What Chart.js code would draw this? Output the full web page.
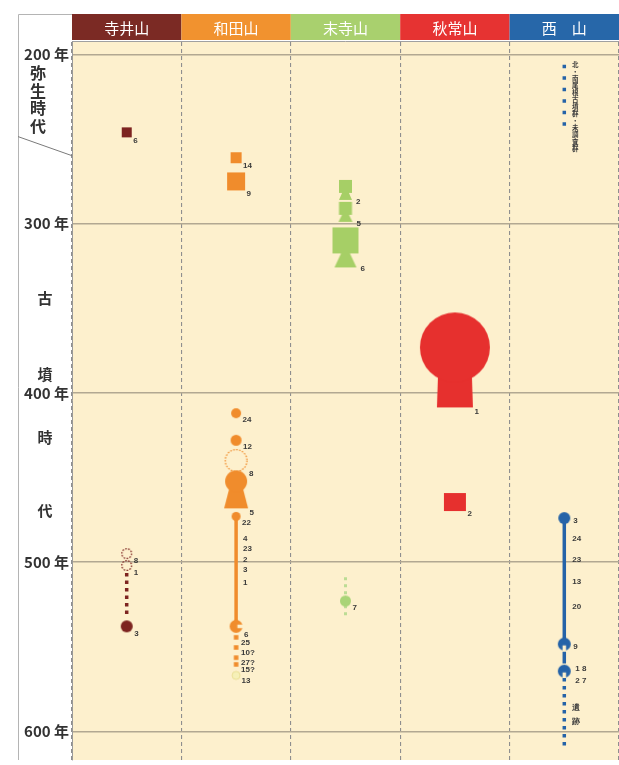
<!DOCTYPE html>
<html>
<head>
<meta charset="utf-8">
<script src="https://cdn.jsdelivr.net/npm/chart.js@4.4.1/dist/chart.umd.min.js"></script>
<style>
  html, body { margin: 0; padding: 0; background: #fff; }
  canvas { display: block; }
</style>
</head>
<body>
<canvas id="chart" width="619" height="765"></canvas>
<script>
// columns and axis
const mountains = ['寺井山', '和田山', '末寺山', '秋常山', '西山'];
const yearTicks = [200, 300, 400, 500, 600];

// tombs: year (centre of the symbol) and tomb number
const teraiYears = [246, 495, 502, 538];
const teraiNos = ['6', '8', '1', '3'];
const wadaYears = [261, 275, 412, 428, 440, 457, 473, 538, 544.5, 550.5, 556.5, 560.5, 567];
const wadaNos = ['14', '9', '24', '12', '8', '5', '22', '6', '25', '10?', '27?', '15?', '13'];
const suedeYears = [280, 293, 314, 523];
const suedeNos = ['2', '5', '6', '7'];
const akitsuneYears = [380.5, 464.5];
const akitsuneNos = ['1', '2'];
const nishiYears = [474, 548.5, 564.5];
const nishiNos = ['3', '9', ''];

// numbers written along the lines
const wadaLineYears = [486, 492.3, 498.8, 504.7, 512.4];
const wadaLineNos = ['4', '23', '2', '3', '1'];
const nishiLineYears = [486, 498.8, 511.8, 526.6, 586.4, 594.7];
const nishiLineNos = ['24', '23', '13', '20', '遺', '跡'];
const nishiPairYears = [563.3, 570.4];
const nishiPairNos = ['1 8', '2 7'];
const nishiNote = '北・南尾根古墳群・未調査群';

// spans of years drawn as lines
const teraiSpans = [[506.5, 533]];
const wadaSpans = [[473.4, 535.5]];
const suedeSpans = [[509, 531.5]];
const nishiSpans = [[206, 246], [474, 546], [553, 560], [568.6, 610]];

// styles
const headerColors = ['#7b2a24', '#f1922f', '#a9d06e', '#e63332', '#2767a9'];
const markColors = ['#7d2420', '#f08c2c', '#a6cf66', '#e6302e', '#2563a8'];
const teraiMarks = [{k: 'sq', w: 10}, {k: 'ring', d: 11}, {k: 'ring', d: 11}, {k: 'dot', d: 12}];
const wadaMarks = [{k: 'sq', w: 11}, {k: 'sq', w: 18}, {k: 'dot', d: 10}, {k: 'dot', d: 11},
  {k: 'ring', d: 23}, {k: 'kh', d: 22, h: 38, tw: 10, bw: 24}, {k: 'dot', d: 9},
  {k: 'cut', d: 13, side: 'r'}, {k: 'sq', w: 4.5}, {k: 'sq', w: 4.5}, {k: 'sq', w: 4.5},
  {k: 'sq', w: 4.5}, {k: 'dot', d: 8, fill: '#f6f0b8', edge: '#e6da8a'}];
const suedeMarks = [{k: 'ks', s: 13, h: 20, tw: 6, bw: 13}, {k: 'ks', s: 13, h: 20, tw: 6, bw: 14},
  {k: 'ks', s: 26, h: 40, tw: 8, bw: 22}, {k: 'dot', d: 11, fill: '#a9d477'}];
const akitsuneMarks = [{k: 'kh', d: 70, h: 95, tw: 32, bw: 36}, {k: 'sq', w: 22, h: 18}];
const nishiMarks = [{k: 'dot', d: 12, lx: 9, ly: 3}, {k: 'cut', d: 13, side: 'b', lx: 9, ly: 3},
  {k: 'cut', d: 13, side: 'b', lx: 0, ly: 0}];

function buildMark(spec, color) {
  const bw = spec.bw || 0;
  const w = Math.max(spec.w || 0, spec.d || 0, spec.s || 0, bw);
  const h = spec.h || spec.d || spec.w;
  const cv = document.createElement('canvas');
  cv.width = Math.ceil(w + 4);
  cv.height = Math.ceil(h + 4);
  const g = cv.getContext('2d');
  g.translate(cv.width / 2, cv.height / 2);
  g.fillStyle = spec.fill || color;
  g.strokeStyle = color;
  const top = -h / 2;
  if (spec.k === 'sq') {
    g.fillRect(-spec.w / 2, top, spec.w, h);
  } else if (spec.k === 'dot' || spec.k === 'cut') {
    g.beginPath();
    g.arc(0, 0, spec.d / 2, 0, Math.PI * 2);
    g.fill();
    if (spec.edge) { g.strokeStyle = spec.edge; g.lineWidth = 0.8; g.stroke(); }
    if (spec.k === 'cut') {
      g.globalCompositeOperation = 'destination-out';
      const n = spec.d * 0.27;
      if (spec.side === 'r') g.fillRect(spec.d * 0.1, -n / 2, spec.d, n);
      else g.fillRect(-n / 2, spec.d * 0.1, n, spec.d);
    }
  } else if (spec.k === 'ring') {
    g.setLineDash([1.6, 1.4]);
    g.lineWidth = 1.2;
    g.beginPath();
    g.arc(0, 0, spec.d / 2 - 0.6, 0, Math.PI * 2);
    g.stroke();
  } else {
    const head = spec.d || spec.s;
    const neck = spec.k === 'kh' ? top + head / 2 : top + head - 1;
    g.beginPath();
    g.moveTo(-spec.tw / 2, neck);
    g.lineTo(spec.tw / 2, neck);
    g.lineTo(bw / 2, h / 2);
    g.lineTo(-bw / 2, h / 2);
    g.closePath();
    g.fill();
    if (spec.k === 'kh') {
      g.beginPath();
      g.arc(0, top + head / 2, head / 2, 0, Math.PI * 2);
      g.fill();
    } else {
      g.fillRect(-head / 2, top, head, head);
    }
  }
  let lx = spec.lx, ly = spec.ly;
  if (lx === undefined) lx = spec.k === 'ks' ? bw / 2 + 4 : Math.max((bw || w) / 2 + 1.5, 5);
  if (ly === undefined) ly = h / 2 + (spec.k === 'sq' ? 3 : spec.k === 'kh' ? 4 : 1.5);
  return {canvas: cv, anchor: [lx, ly]};
}

function markDataset(col, years, nos, marks) {
  const built = marks.map(m => buildMark(m, markColors[col]));
  return {
    data: years.map(y => ({x: mountains[col], y: y})),
    pointStyle: c => (built[c.dataIndex] ? built[c.dataIndex].canvas : 'circle'),
    pointRadius: 3,
    nos: nos,
    anchors: built.map(b => b.anchor),
    order: 1
  };
}

function spanDatasets(col, spans, dashes, width, color) {
  return spans.map((s, i) => ({
    data: [{x: mountains[col], y: s[0]}, {x: mountains[col], y: s[1]}],
    showLine: true,
    pointRadius: 0,
    borderColor: color || markColors[col],
    borderWidth: width,
    borderDash: dashes[i],
    borderCapStyle: 'butt',
    order: 2
  }));
}

const datasets = [
  markDataset(0, teraiYears, teraiNos, teraiMarks),
  markDataset(1, wadaYears, wadaNos, wadaMarks),
  markDataset(2, suedeYears, suedeNos, suedeMarks),
  markDataset(3, akitsuneYears, akitsuneNos, akitsuneMarks),
  markDataset(4, nishiYears, nishiNos, nishiMarks),
  ...spanDatasets(0, teraiSpans, [[3.5, 4]], 3.5),
  ...spanDatasets(1, wadaSpans, [[]], 3.5),
  ...spanDatasets(2, suedeSpans, [[3, 4]], 3, '#bcdc94'),
  ...spanDatasets(4, nishiSpans, [[3.5, 8], [], [], [3.5, 4.5]], 3.5)
];

const freeLabels = [
  {col: 1, dx: 7, years: wadaLineYears, nos: wadaLineNos},
  {col: 4, dx: 8, years: nishiLineYears, nos: nishiLineNos},
  {col: 4, dx: 11, years: nishiPairYears, nos: nishiPairNos}
];

const periods = [
  {text: '弥生時代', years: [210.6, 221.3, 231.4, 242], x: 38, size: 16},
  {text: '古墳時代', years: [343.8, 389.3, 426, 469.2], x: 45, size: 15}
];

const frame = {
  id: 'frame',
  beforeDraw(chart) {
    const {ctx, chartArea: a, scales: {x}} = chart;
    ctx.save();
    ctx.fillStyle = '#fdf0cd';
    ctx.fillRect(a.left, a.top, a.right - a.left, a.bottom - a.top);
    const half = (x.getPixelForValue(1) - x.getPixelForValue(0)) / 2;
    mountains.forEach((m, i) => {
      ctx.fillStyle = headerColors[i];
      ctx.fillRect(x.getPixelForValue(i) - half, x.top, half * 2, x.bottom - x.top - 1);
    });
    ctx.strokeStyle = '#b4b4b4';
    ctx.lineWidth = 1;
    ctx.beginPath();
    ctx.moveTo(18.5, a.bottom);
    ctx.lineTo(18.5, x.top + 0.5);
    ctx.lineTo(a.left, x.top + 0.5);
    ctx.stroke();
    ctx.restore();
  },
  afterDraw(chart) {
    const {ctx, scales: {x, y}} = chart;
    ctx.save();
    ctx.fillStyle = '#333';
    ctx.textAlign = 'center';
    ctx.textBaseline = 'middle';
    periods.forEach(p => {
      ctx.font = 'bold ' + p.size + 'px "Noto Sans CJK JP", sans-serif';
      [...p.text].forEach((ch, i) => ctx.fillText(ch, p.x, y.getPixelForValue(p.years[i])));
    });
    ctx.strokeStyle = '#7a7a7a';
    ctx.lineWidth = 1;
    ctx.beginPath();
    ctx.moveTo(18, y.getPixelForValue(248.5));
    ctx.lineTo(chart.chartArea.left, y.getPixelForValue(259.8));
    ctx.stroke();

    // vertical note above 西山
    ctx.font = 'bold 6.5px "Noto Sans CJK JP", sans-serif';
    ctx.fillStyle = '#3c3c3c';
    const nx = x.getPixelForValue(4) + 11;
    const ny = y.getPixelForValue(206);
    [...nishiNote].forEach((ch, i) => ctx.fillText(ch, nx, ny + i * 7));
    ctx.restore();
  }
};

const tombLabels = {
  id: 'tombLabels',
  afterDatasetsDraw(chart) {
    const ctx = chart.ctx;
    ctx.save();
    ctx.font = 'bold 8px "Liberation Sans", Arial, sans-serif';
    ctx.fillStyle = '#3a3a3a';
    ctx.textBaseline = 'middle';
    ctx.textAlign = 'left';
    chart.data.datasets.forEach((ds, di) => {
      if (!ds.nos) return;
      chart.getDatasetMeta(di).data.forEach((pt, i) => {
        const a = ds.anchors[i];
        ctx.fillText(ds.nos[i], pt.x + a[0], pt.y + a[1]);
      });
    });
    const xs = chart.scales.x, ys = chart.scales.y;
    freeLabels.forEach(g => {
      const px = xs.getPixelForValue(g.col) + g.dx;
      g.years.forEach((yr, i) => ctx.fillText(g.nos[i], px, ys.getPixelForValue(yr)));
    });
    ctx.restore();
  }
};

new Chart(document.getElementById('chart'), {
  type: 'scatter',
  data: {labels: mountains, datasets: datasets},
  options: {
    responsive: false,
    animation: false,
    events: [],
    layout: {autoPadding: false, padding: {top: 14, left: 18, right: 0, bottom: 5}},
    plugins: {legend: {display: false}, tooltip: {enabled: false}},
    scales: {
      x: {
        type: 'category',
        position: 'top',
        offset: true,
        grid: {offset: true, color: '#8f8f8f', lineWidth: 1.1, drawTicks: false},
        border: {display: true, color: '#a0a0a0', dash: [4, 3]},
        ticks: {
          color: '#ffffff',
          padding: 4,
          font: {size: 15, family: '"Noto Sans CJK JP", sans-serif'},
          callback: (v, i) => {
            const m = mountains[i];
            return m.length === 2 ? m[0] + '　' + m[1] : m;
          }
        },
        afterFit: s => { s.height = 27; s.paddingLeft = 0; s.paddingRight = 0; }
      },
      y: {
        type: 'linear',
        reverse: true,
        min: 192,
        max: 617,
        afterBuildTicks: s => { s.ticks = yearTicks.map(v => ({value: v})); },
        grid: {color: '#b2a892', lineWidth: 1.4, drawTicks: false},
        border: {display: true, color: '#9a9a9a'},
        ticks: {
          color: '#333',
          padding: 3,
          font: {size: 15, weight: 'bold', family: '"Noto Sans CJK JP", sans-serif'},
          callback: v => v + ' 年'
        },
        afterFit: s => { s.width = 54; s.paddingTop = 0; s.paddingBottom = 0; }
      }
    }
  },
  plugins: [frame, tombLabels]
});
</script>
</body>
</html>
